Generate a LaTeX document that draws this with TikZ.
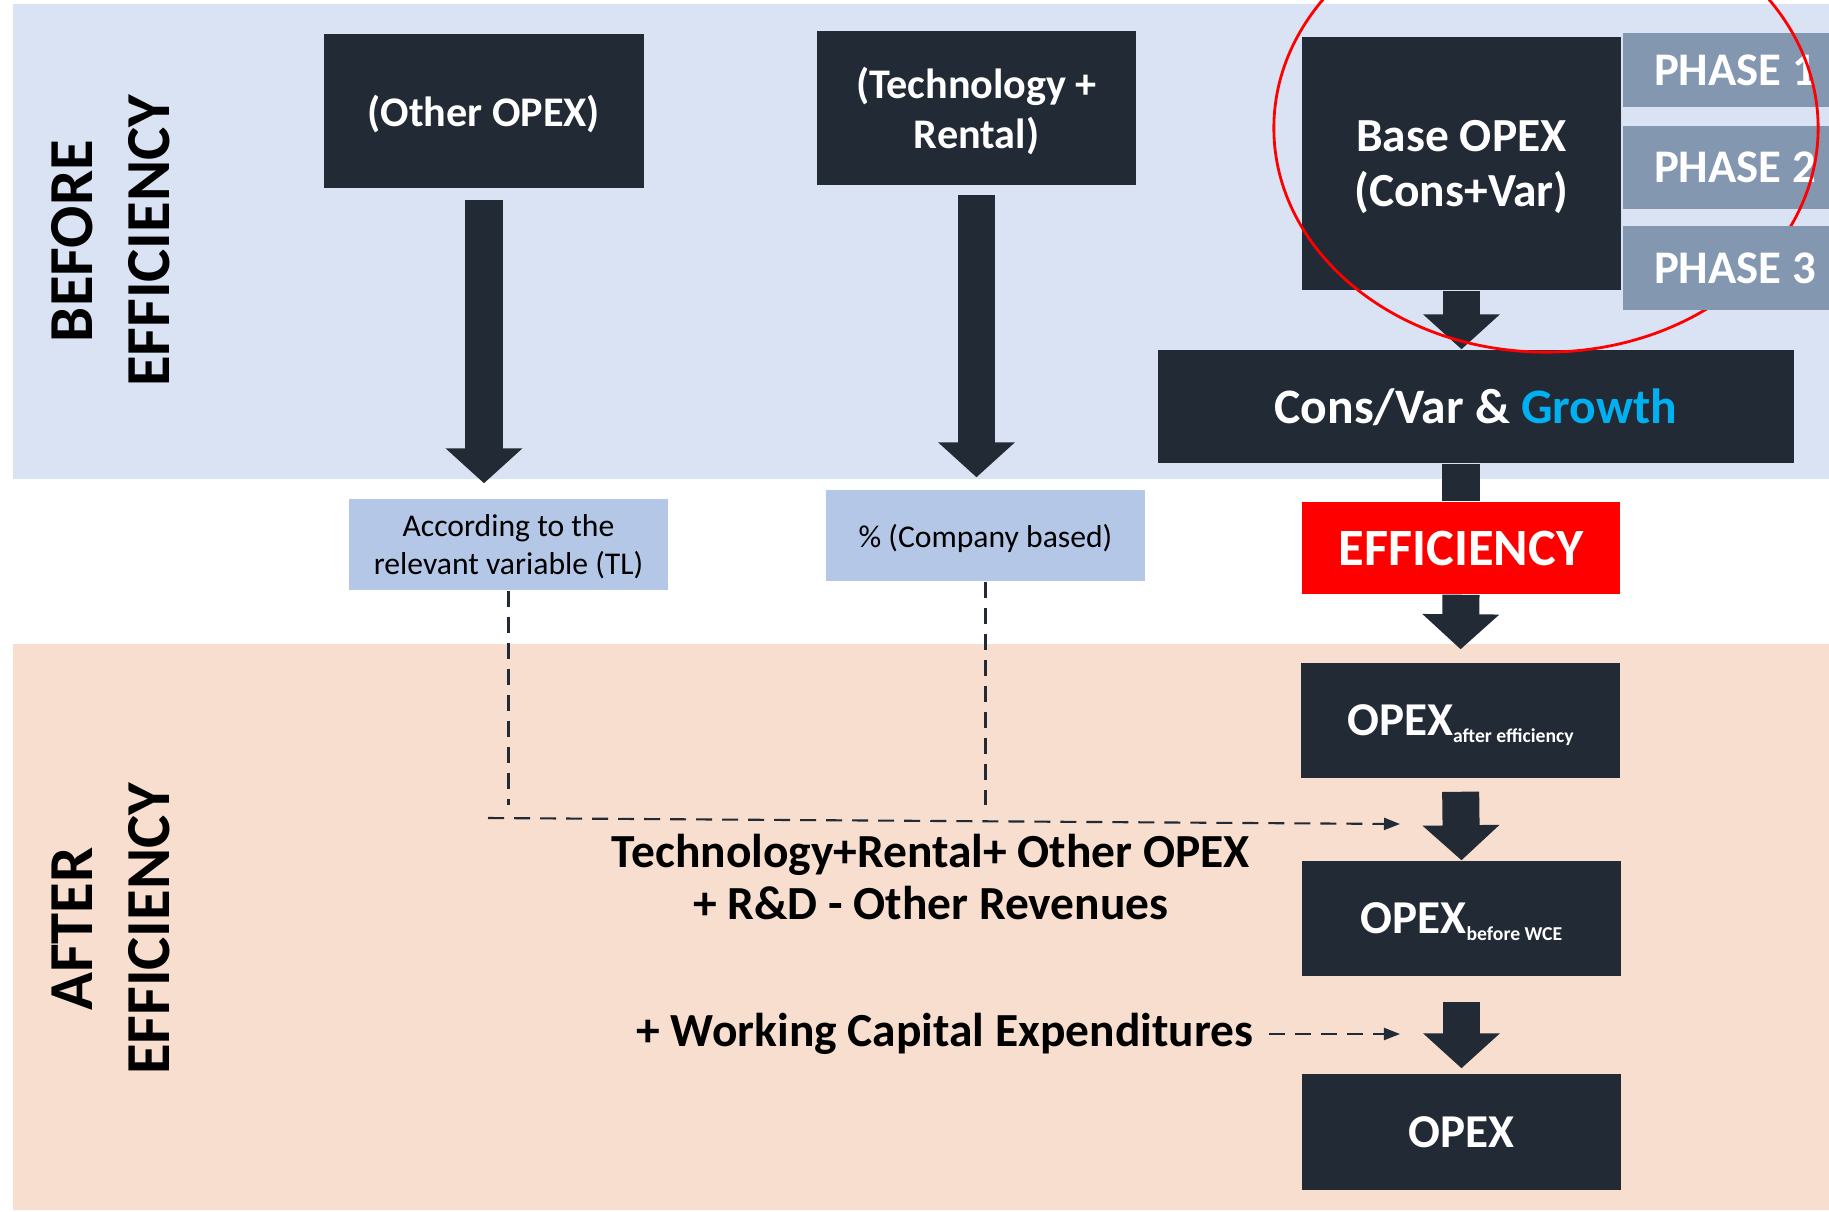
\documentclass[tikz,border=0pt]{standalone}
\usepackage{fontspec}
\setmainfont{Carlito}
\usetikzlibrary{arrows.meta}
\definecolor{BoxDark}{HTML}{222A35}
\definecolor{BandBlue}{HTML}{DAE3F3}
\definecolor{BandPeach}{HTML}{F8DECE}
\definecolor{PhaseGrey}{HTML}{8497B0}
\definecolor{NoteBlue}{HTML}{B4C7E7}
\definecolor{GrowthCyan}{HTML}{00B0F0}
\newcommand{\subtxt}[1]{\raisebox{-1.8pt}{\fontsize{5.6}{6}\selectfont #1}}

\begin{document}
\begin{tikzpicture}[
  x=0.01cm,y=-0.01cm,
  darkbox/.style={fill=BoxDark,text=white,inner sep=0pt,text depth=0pt,align=center,font=\bfseries\fontsize{12}{14.3}\selectfont},
  phasebox/.style={fill=PhaseGrey,text=white,inner sep=0pt,minimum width=2.24cm,font=\bfseries\fontsize{13.3}{15}\selectfont},
  notebox/.style={fill=NoteBlue,inner sep=0pt,text depth=0pt,minimum width=3.19cm,minimum height=0.91cm,align=center,font=\fontsize{9}{10.6}\selectfont},
  blockarrow/.style={BoxDark,line width=3.7mm,-{Triangle[length=3.5mm,width=7.5mm]}},
  blockline/.style={BoxDark,line width=3.7mm},
  dashline/.style={BoxDark,line width=0.6pt,dash pattern=on 1.6mm off 1mm},
  dasharrow/.style={dashline,-{Triangle[length=1.6mm,width=1.2mm]}},
  sidelabel/.style={rotate=90,align=center,font=\bfseries\fontsize{17.8}{21.9}\selectfont},
  sumtext/.style={inner sep=0pt,align=center,font=\bfseries\fontsize{13.5}{14.6}\selectfont}
]
  \useasboundingbox (0,0) rectangle (1829,1211);
  \fill[BandBlue] (13,4) rectangle (1829,479);
  \fill[BandPeach] (13,644) rectangle (1829,1210);

  \node[sidelabel] (beforelbl) at (111,241) {BEFORE\\EFFICIENCY};
  \node[sidelabel] (afterlbl) at (111,929) {AFTER\\EFFICIENCY};

  \node[darkbox,minimum width=3.2cm,minimum height=1.54cm] (otheropex) at (484,111) {(Other OPEX)};
  \node[darkbox,minimum width=3.19cm,minimum height=1.54cm] (techrent) at (976.5,108) {(Technology +\\Rental)};
  \node[darkbox,minimum width=3.19cm,minimum height=2.53cm,font=\bfseries\fontsize{13.5}{15.6}\selectfont] (baseopex) at (1461.5,163.5) {Base OPEX\\(Cons+Var)};
  \node[darkbox,minimum width=6.36cm,minimum height=1.13cm,font=\bfseries\fontsize{14.1}{16}\selectfont] (consvar) at (1476,406.5) {Cons/Var \& \textcolor{GrowthCyan}{Growth}};
  \node[darkbox,fill=red,minimum width=3.18cm,minimum height=0.92cm,font=\bfseries\fontsize{14.9}{17}\selectfont] (effic) at (1461,548) {EFFICIENCY};

  \node[notebox] (accvar) at (508.5,544.5) {According to the\\relevant variable (TL)};
  \node[notebox] (compbased) at (985.5,535.5) {\% (Company based)};

  \node[darkbox,minimum width=3.19cm,minimum height=1.15cm,font=\bfseries\fontsize{13.4}{15}\selectfont] (opexeff) at (1460.5,720.5) {OPEX\subtxt{after efficiency}};
  \node[darkbox,minimum width=3.19cm,minimum height=1.15cm,font=\bfseries\fontsize{13.4}{15}\selectfont] (opexwce) at (1461.5,918.5) {OPEX\subtxt{before WCE}};
  \node[darkbox,minimum width=3.19cm,minimum height=1.16cm,font=\bfseries\fontsize{13.4}{15}\selectfont] (opexfinal) at (1461.5,1132) {OPEX};

  \draw[blockarrow,shorten <=1.1mm,shorten >=1.5mm] (otheropex.south) -- (otheropex.south |- accvar.north);
  \draw[blockarrow,shorten <=0.9mm,shorten >=1.2mm] (techrent.south) -- (techrent.south |- compbased.north);
  \draw[blockarrow] (baseopex.south) -- (baseopex.south |- consvar.north);
  \draw[blockline] (effic.north |- consvar.south) -- (effic.north);
  \draw[blockarrow,shorten >=1.3mm] (effic.south) -- (opexeff.north);
  \draw[blockarrow,shorten <=1.3mm] (opexeff.south) -- (opexwce.north);
  \draw[blockarrow,shorten <=2.5mm,shorten >=0.5mm] (opexwce.south) -- (opexfinal.north);

  \foreach \n/\yc/\h in {1/70/0.73,2/167.5/0.83}
    \node[phasebox,minimum height=\h cm] (phase\n) at (1735,\yc) {PHASE \n};
  \draw[red,line width=0.8pt] (1546,128) ellipse [x radius=2.72cm,y radius=2.24cm];
  \node[phasebox,minimum height=0.83cm] (phase3) at (1735,268) {PHASE 3};

  \coordinate (accend) at (508.5,805);
  \coordinate (compend) at (985.5,805);
  \coordinate (sumstart) at (488,818);
  \coordinate (sumend) at (1400,824);
  \coordinate (wceend) at (1400,1034);
  \draw[dashline] (accvar.south) -- (accend);
  \draw[dashline] (compbased.south) -- (compend);
  \draw[dasharrow] (sumstart) -- (sumend);

  \node[sumtext] (sumtxt) at (931,877) {Technology+Rental+ Other OPEX\\+ R\&D - Other Revenues};
  \node[sumtext,anchor=east] (wcetxt) at (1254,1034) {+ Working Capital Expenditures};
  \draw[dasharrow] ([xshift=1.5mm]wcetxt.east) -- (wceend);
\end{tikzpicture}
\end{document}
